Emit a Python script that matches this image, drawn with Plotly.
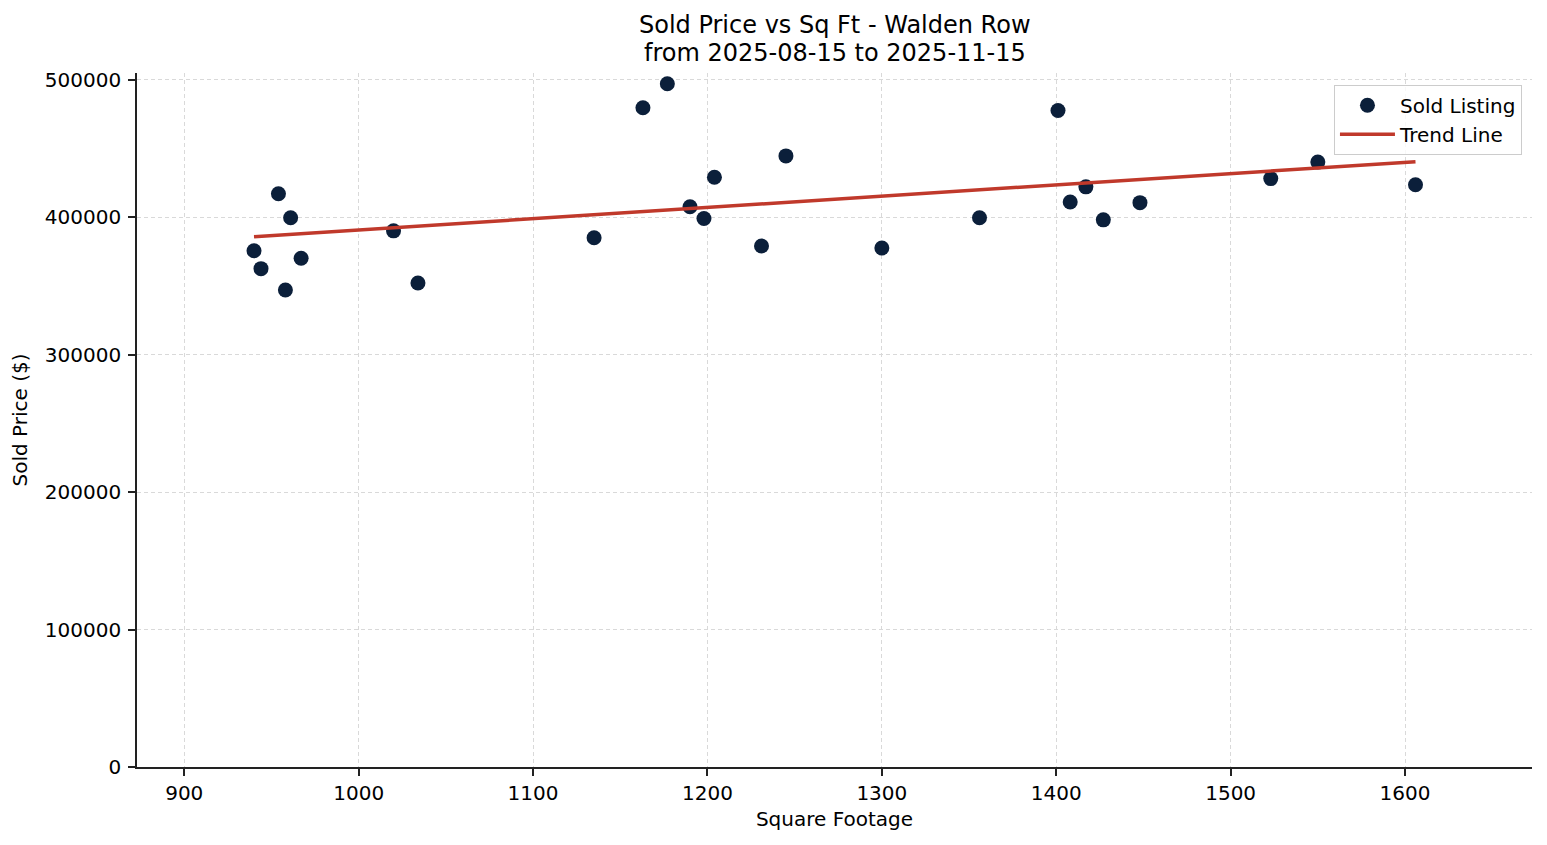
import plotly.graph_objects as go

# sold listings
sq_ft = [940, 944, 954, 958, 961, 967, 1020, 1034, 1135, 1163, 1177, 1190, 1198,
         1204, 1231, 1245, 1300, 1356, 1401, 1408, 1417, 1427, 1448, 1523, 1550, 1606]
sold_price = [375500, 362500, 417000, 347000, 399500, 370000, 390000, 352000, 385000,
              479500, 497000, 407500, 399000, 429000, 379000, 444500, 377500, 399500,
              477500, 411000, 422000, 398000, 410500, 428000, 440000, 423500]

# trend line endpoints
trend_x = [940, 1606]
trend_y = [385700, 440300]

x_ticks = [900, 1000, 1100, 1200, 1300, 1400, 1500, 1600]
y_ticks = [0, 100000, 200000, 300000, 400000, 500000]

title_lines = ["Sold Price vs Sq Ft - Walden Row", "from 2025-08-15 to 2025-11-15"]

FONT = "DejaVu Sans"
NAVY = "#0b1f3a"
RED = "#c0392b"

fig = go.Figure()
fig.add_trace(go.Scatter(
    x=sq_ft, y=sold_price, mode="markers", name="Sold Listing",
    marker=dict(size=15, color=NAVY, line=dict(width=0)),
))
fig.add_trace(go.Scatter(
    x=trend_x, y=trend_y, mode="lines", name="Trend Line",
    line=dict(color=RED, width=3.5),
))

axis_common = dict(
    showgrid=True, gridcolor="#d9d9d9", gridwidth=1, griddash="4px,3px",
    showline=True, linecolor="#222222", linewidth=1.6,
    ticks="outside", ticklen=7, tickwidth=1.6, tickcolor="#222222",
    tickfont=dict(family=FONT, size=20, color="black"),
    zeroline=False, mirror=False, automargin=False,
)

# two-line title as annotations (page has an 8px body margin)
for txt, yy in zip(title_lines, [1.069, 1.029]):
    fig.add_annotation(
        text=txt, x=0.5, y=yy, xref="paper", yref="paper",
        xanchor="center", yanchor="middle", showarrow=False,
        font=dict(family=FONT, size=24, color="black"),
    )

fig.update_layout(
    width=1539, height=837,
    paper_bgcolor="white", plot_bgcolor="white",
    margin=dict(l=129, r=15, t=65, b=78),
    font=dict(family=FONT, color="black"),
    xaxis=dict(
        axis_common,
        range=[872.9, 1672.8], tickvals=x_ticks,
        title=dict(text="Square Footage", font=dict(family=FONT, size=20), standoff=8),
    ),
    yaxis=dict(
        axis_common,
        range=[0, 504800], tickvals=y_ticks, tickformat="d", ticklabelstandoff=3,
        title=dict(text="Sold Price ($)", font=dict(family=FONT, size=20), standoff=14),
    ),
    legend=dict(
        x=0.9928, y=0.983, xanchor="right", yanchor="top",
        bgcolor="rgba(255,255,255,0.8)", bordercolor="#cccccc", borderwidth=1,
        font=dict(family=FONT, size=20, color="black"),
        itemwidth=55, tracegroupgap=0,
    ),
    showlegend=True,
)

fig.write_html("out.html")
